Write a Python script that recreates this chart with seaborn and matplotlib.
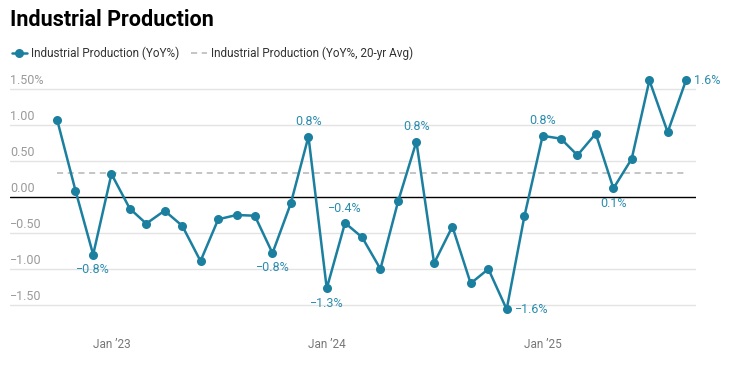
import pandas as pd
import seaborn as sns
import matplotlib.pyplot as plt
import matplotlib.transforms as mtransforms

# monthly YoY %, Oct 2022 .. Sep 2025
months = pd.date_range("2022-10-01", "2025-09-01", freq="MS")
yoy = [1.07, 0.09, -0.80, 0.32, -0.16, -0.37, -0.19, -0.40, -0.89, -0.31,
       -0.25, -0.26, -0.78, -0.09, 0.84, -1.27, -0.36, -0.56, -1.00, -0.06,
       0.77, -0.92, -0.41, -1.20, -1.00, -1.56, -0.27, 0.85, 0.81, 0.58,
       0.88, 0.12, 0.53, 1.62, 0.90, 1.62]
avg_20yr = 0.34
yticks = [-1.5, -1.0, -0.5, 0.0, 0.5, 1.0, 1.5]
ytick_labels = ["\u22121.50", "\u22121.00", "\u22120.50", "0.00", "0.50", "1.00", "1.50%"]
xtick_dates = ["2023-01-01", "2024-01-01", "2025-01-01"]
xtick_labels = ["Jan \u201923", "Jan \u201924", "Jan \u201925"]
# annotated points: index -> text
point_labels = {2: "\u22120.8%", 12: "\u22120.8%", 14: "0.8%", 15: "\u22121.3%",
                16: "\u22120.4%", 20: "0.8%", 25: "\u22121.6%", 27: "0.8%",
                31: "0.1%", 35: "1.6%"}

BLUE = "#1b7f9f"
LABEL_BLUE = "#2b8cae"
GREY = "#9a9a9a"

df = pd.DataFrame({"month": months, "yoy": yoy})

sns.set_theme(style="white")
plt.rcParams["font.family"] = ["Roboto", "DejaVu Sans"]

fig = plt.figure(figsize=(7.34, 3.65), dpi=100)
ax = fig.add_axes([10 / 734, 42 / 365, 686 / 734, 252 / 365])

sns.lineplot(data=df, x="month", y="yoy", ax=ax, color=BLUE, linewidth=1.8,
             marker="o", markersize=6.5, markeredgewidth=0,
             label="Industrial Production (YoY%)", zorder=4)
ax.plot([months[0], months[-1]], [avg_20yr, avg_20yr], color="#b5b5b5",
        linestyle=(0, (4, 3)), linewidth=1.1,
        label="Industrial Production (YoY%, 20-yr Avg)", zorder=2)

ax.set_ylim(-1.75, 1.75)
ax.set_xlim(pd.Timestamp("2022-07-13"), pd.Timestamp("2025-09-18"))

for y in yticks:
    if y == 0:
        ax.axhline(0, color="black", linewidth=1.0, zorder=3)
    else:
        ax.axhline(y, color="#e3e3e3", linewidth=1.0, zorder=1)

ax.set_yticks([])
ax.set_xticks(pd.to_datetime(xtick_dates))
ax.set_xticklabels(xtick_labels, color="#777777", fontsize=8.5)
ax.tick_params(axis="x", length=0, pad=11)
ax.set_xlabel("")
ax.set_ylabel("")
for s in ax.spines.values():
    s.set_visible(False)

# y labels sit above their gridlines at the left edge
trans = mtransforms.blended_transform_factory(ax.transAxes, ax.transData)
for y, lab in zip(yticks, ytick_labels):
    ax.annotate(lab, xy=(0, y), xycoords=trans, xytext=(0, 1.5),
                textcoords="offset points", ha="left", va="bottom",
                color=GREY, fontsize=9)

offsets = {"above": (0, 6, "center", "bottom"), "below": (0, -6, "center", "top"),
           "right": (6, 0, "left", "center")}
for i, txt in point_labels.items():
    if i in (25, 35):
        pos = "right"
    elif yoy[i] < 0 and i != 16:
        pos = "below"
    elif i == 31:
        pos = "below"
    else:
        pos = "above"
    dx, dy, ha, va = offsets[pos]
    ax.annotate(txt, xy=(months[i], yoy[i]), xytext=(dx, dy),
                textcoords="offset points", ha=ha, va=va,
                color=LABEL_BLUE, fontsize=9, zorder=5)

ax.legend_.remove()
handles, labels = ax.get_legend_handles_labels()
fig.legend(handles, labels, loc="center left", bbox_to_anchor=(1 / 734, 1 - 53 / 365),
           ncol=2, frameon=False, fontsize=8.5, handlelength=1.3,
           handletextpad=0.35, columnspacing=1.0, labelcolor="#333333")

fig.text(10 / 734, 1 - 20 / 365, "Industrial Production", fontsize=15.5,
         fontweight="bold", ha="left", va="center", color="black")

fig.savefig("out.png", dpi=100)
